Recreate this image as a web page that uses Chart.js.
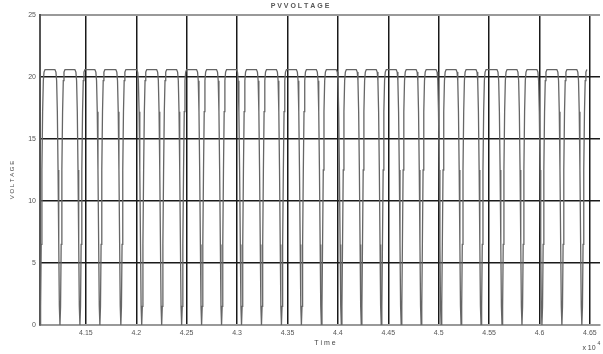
<!DOCTYPE html>
<html lang="en">
<head>
    <meta charset="UTF-8">
    <title>PV Voltage</title>
    <script src="https://cdn.jsdelivr.net/npm/chart.js"></script>
    <style>
        html, body { margin: 0; padding: 0; background: #fff; }
        canvas { display: block; }
    </style>
</head>
<body>
<canvas id="pvChart" width="603" height="354"></canvas>
<script>
    // x axis is in units of 10^4 s
    const xTickValues = [4.15, 4.2, 4.25, 4.3, 4.35, 4.4, 4.45, 4.5, 4.55, 4.6, 4.65];
    const yTickValues = [0, 5, 10, 15, 20, 25];

    // centre of each dip to zero
    const dipTimes = [4.1045, 4.1243, 4.1441, 4.1639, 4.1847, 4.2054, 4.2252, 4.2450,
        4.2648, 4.2846, 4.3044, 4.3242, 4.3440, 4.3638, 4.3836, 4.4034, 4.4232,
        4.4430, 4.4628, 4.4826, 4.5024, 4.5222, 4.5420, 4.5628, 4.5826, 4.6024,
        4.6222, 4.6420];

    // shape of one dip: time offset from the dip centre and voltage
    const dipOffsets = [-0.0050, -0.0040, -0.0033, -0.0026, -0.0019, -0.0012, -0.0006, 0,
        0.0006, 0.0012, 0.0019, 0.0026, 0.0033, 0.0040, 0.0050];
    const dipVolts = [20.6, 20.4, 19.7, 17.2, 12.5, 6.5, 1.5, 0,
        1.5, 6.5, 12.5, 17.2, 19.7, 20.4, 20.6];

    const points = [];
    dipTimes.forEach(function (tc) {
        dipOffsets.forEach(function (off, i) {
            points.push({ x: tc + off, y: dipVolts[i] });
        });
    });

    const textPlugin = {
        id: 'extraText',
        afterDraw(chart) {
            const ctx = chart.ctx;
            ctx.save();
            ctx.fillStyle = '#444';
            ctx.textAlign = 'center';
            ctx.textBaseline = 'middle';
            ctx.font = '7px "Liberation Sans", Arial, sans-serif';
            ctx.fillText('T i m e', 325, 343);
            ctx.fillText('x 10', 589, 348);
            ctx.font = '5px "Liberation Sans", Arial, sans-serif';
            ctx.fillText('4', 599, 344);
            ctx.translate(12, 180);
            ctx.rotate(-Math.PI / 2);
            ctx.font = '6px "Liberation Sans", Arial, sans-serif';
            ctx.fillText('V O L T A G E', 0, 0);
            ctx.restore();
        }
    };

    new Chart(document.getElementById('pvChart'), {
        type: 'line',
        data: {
            datasets: [{
                label: 'PV voltage',
                data: points,
                borderColor: '#666',
                borderWidth: 1.3,
                pointRadius: 0,
                tension: 0,
                fill: false
            }]
        },
        options: {
            responsive: false,
            animation: false,
            layout: { padding: { left: 0, right: 3, top: 0, bottom: 0 } },
            plugins: {
                legend: { display: false },
                tooltip: { enabled: false },
                title: {
                    display: true,
                    text: 'P V V O L T A G E',
                    color: '#555',
                    font: { size: 7, family: '"Liberation Sans", Arial, sans-serif', lineHeight: 1 },
                    padding: { top: 3, bottom: 5 }
                }
            },
            scales: {
                x: {
                    type: 'linear',
                    min: 4.1045,
                    max: 4.66,
                    afterFit(scale) { scale.height = 29; },
                    afterBuildTicks(scale) {
                        scale.ticks = xTickValues.map(v => ({ value: v }));
                    },
                    ticks: {
                        autoSkip: false,
                        maxRotation: 0,
                        padding: 4,
                        color: '#555',
                        font: { size: 7, family: '"Liberation Sans", Arial, sans-serif' },
                        callback: v => String(+v.toFixed(2))
                    },
                    grid: { color: '#1a1a1a', lineWidth: 1.5, drawTicks: false },
                    border: { display: true, color: '#999', width: 2 }
                },
                y: {
                    min: 0,
                    max: 25,
                    afterFit(scale) { scale.width = 40; },
                    afterBuildTicks(scale) {
                        scale.ticks = yTickValues.map(v => ({ value: v }));
                    },
                    ticks: {
                        padding: 4,
                        color: '#555',
                        font: { size: 7, family: '"Liberation Sans", Arial, sans-serif' }
                    },
                    grid: {
                        color: ctx => (ctx.tick.value === 25 ? '#999' : '#1a1a1a'),
                        lineWidth: ctx => (ctx.tick.value === 25 ? 2 : 1.5),
                        drawTicks: false
                    },
                    border: { display: true, color: '#555', width: 2 }
                }
            }
        },
        plugins: [textPlugin]
    });
</script>
</body>
</html>
